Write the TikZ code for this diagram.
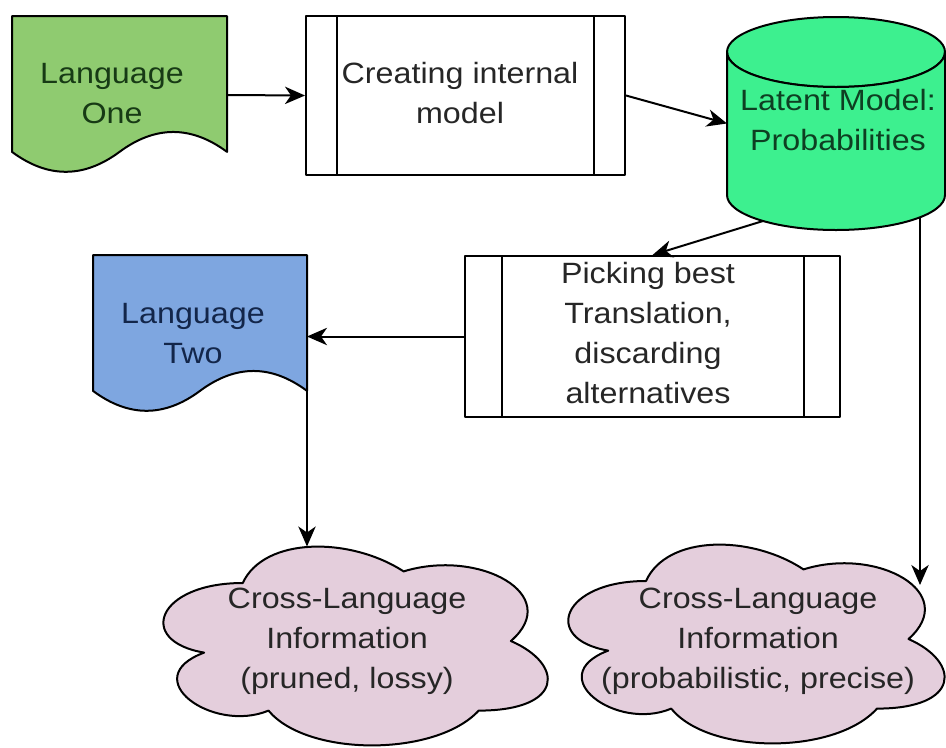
\documentclass[tikz,border=0pt]{standalone}
\usepackage{fontspec}
\setmainfont{Liberation Sans}[FakeStretch=1.1]
\usetikzlibrary{arrows.meta,calc}

\definecolor{langone}{HTML}{8FCB70}
\definecolor{langtwo}{HTML}{7EA6E0}
\definecolor{latent}{HTML}{3DF08F}
\definecolor{cloudfill}{HTML}{E4CEDC}
\definecolor{txtgreen}{HTML}{173A15}
\definecolor{txtblue}{HTML}{13264A}
\definecolor{txtmint}{HTML}{0E3F22}
\definecolor{txtgrey}{HTML}{262626}

% strut fixing the first-line ascent and last-line depth of every label
\newcommand\lstrut{\rule[-8pt]{0pt}{30pt}}

% document shape with a wavy lower edge, drawn over an invisible frame node
\newcommand\docshape[4]{%
  \begin{scope}[shift={(#1.north west)}, xscale=#2, yscale=#3]
    \path[outline, fill=#4] (0,0) -- (1,0) -- (1,0.86)
      .. controls (0.8333,0.692) and (0.6667,0.692) .. (0.5,0.86)
      .. controls (0.3333,1.028) and (0.1667,1.028) .. (0,0.86) -- cycle;
  \end{scope}}

% cloud outline fitted to an invisible frame node
\newcommand\cloudshape[4]{%
  \begin{scope}[shift={(#1.north west)}, xscale=#2, yscale=#3]
    \path[outline, fill=#4] (0.25,0.25)
      .. controls (0.05,0.25) and (0,0.5) .. (0.16,0.55)
      .. controls (0,0.66) and (0.18,0.9) .. (0.31,0.8)
      .. controls (0.4,1) and (0.7,1) .. (0.8,0.8)
      .. controls (1,0.8) and (1,0.6) .. (0.875,0.5)
      .. controls (1,0.3) and (0.8,0.1) .. (0.625,0.2)
      .. controls (0.5,0.05) and (0.3,0.05) .. (0.25,0.25) -- cycle;
  \end{scope}}

% the two inner bars of a predefined-process box
\newcommand\processbars[2]{%
  \draw[outline] ($(#1.north west)+(#2,0)$) -- ($(#1.south west)+(#2,0)$)
    ($(#1.north east)+(-#2,0)$) -- ($(#1.south east)+(-#2,0)$);}

\begin{document}
\begin{tikzpicture}[x=0.75pt,y=-0.75pt,
  outline/.style={draw=black, line width=1.5pt, line join=round},
  frame/.style={draw=none, inner sep=0pt, outer sep=0pt},
  process/.style={outline, fill=white, inner sep=0pt},
  lbl/.style={inner sep=0pt, align=center, font=\fontsize{22pt}{30pt}\selectfont},
  flow/.style={draw=black, line width=1.5pt,
    -{Stealth[length=15pt,width=13pt,inset=4.5pt]}},
]
\useasboundingbox[fill=white] (0,0) rectangle (946,747);

% ---- shapes ----
\node[frame, minimum width=161.25pt, minimum height=118.5pt] (lone) at (119.5,95) {};
\docshape{lone}{215}{158}{langone}

\node[process, minimum width=239.25pt, minimum height=119.25pt] (create) at (465.5,95.5) {};
\processbars{create}{32}

% cylinder: the top face first, then the body whose upper edge is the front rim
\node[frame, minimum width=163.5pt, minimum height=159.75pt] (cyl) at (836,123.5) {};
\path[outline, fill=latent] (836,52)
  ellipse[x radius=81.75pt, y radius=26.25pt];
\path[outline, fill=latent]
  (727,52) .. controls (727,71.3) and (775.8,87) .. (836,87)
  .. controls (896.2,87) and (945,71.3) .. (945,52)
  -- (945,195)
  .. controls (945,214.3) and (896.2,230) .. (836,230)
  .. controls (775.8,230) and (727,214.3) .. (727,195) -- cycle;

\node[process, minimum width=281.25pt, minimum height=120.75pt] (pick) at (652.5,336.5) {};
\processbars{pick}{37.5}

\node[frame, minimum width=160.5pt, minimum height=118.5pt] (ltwo) at (200,334) {};
\docshape{ltwo}{214}{158}{langtwo}

\node[frame, minimum width=321.75pt, minimum height=174pt] (cloud1) at (350,641) {};
\cloudshape{cloud1}{429}{232}{cloudfill}

\node[frame, minimum width=315pt, minimum height=174pt] (cloud2) at (751,639) {};
\cloudshape{cloud2}{420}{232}{cloudfill}

% ---- labels ----
\node[lbl, text=txtgreen] (lone-t) at (112,93.7) {\lstrut Language\\One\lstrut};
\node[lbl, text=txtgrey] (create-t) at (460,94) {\lstrut Creating internal\\model\lstrut};
\node[lbl, text=txtmint] (cyl-t) at (838,121) {\lstrut Latent Model:\\Probabilities\lstrut};
\node[lbl, text=txtgrey] (pick-t) at (648,333.7)
  {\lstrut Picking best\\Translation,\\discarding\\alternatives\lstrut};
\node[lbl, text=txtblue] (ltwo-t) at (193,334) {\lstrut Language\\Two\lstrut};
\node[lbl, text=txtgrey] (cloud1-t) at (347,638.7)
  {\lstrut Cross-Language\\Information\\(pruned, lossy)\lstrut};
\node[lbl, text=txtgrey] (cloud2-t) at (758,638.7)
  {\lstrut Cross-Language\\Information\\(probabilistic, precise)\lstrut};

% ---- connector end points on curved outlines ----
\coordinate (cyl-b1) at ($(cyl.south)+(-73,-9)$);
\coordinate (cyl-b2) at ($(cyl.south)+(84,-13)$);
\coordinate (ltwo-end) at ($(ltwo.south east)+(0,-22)$);
\coordinate (c1-top) at ($(cloud1.north west)+(171.5,21.5)$);
\coordinate (c2-in) at ($(cloud2.north west)+(379,62)$);

% ---- connectors ----
\draw[flow] (lone.east) -- (create.west);
\draw[flow] (create.east) -- (cyl.west);
\draw[flow] (cyl-b1) -- (pick.north);
\draw[flow] (pick.west) -- (pick.west -| ltwo.east);
\draw[flow] (ltwo-end) -- (ltwo-end |- c1-top);
\draw[flow] (cyl-b2) -- (cyl-b2 |- c2-in);
\end{tikzpicture}
\end{document}
